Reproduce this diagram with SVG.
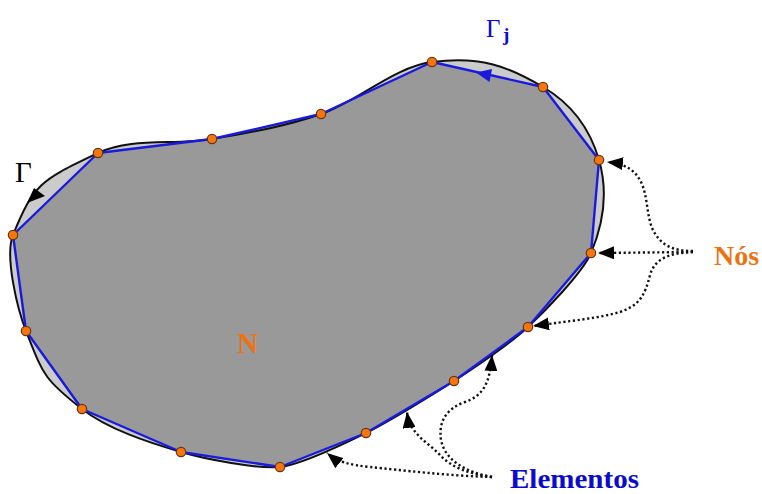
<svg xmlns="http://www.w3.org/2000/svg" width="762" height="494" viewBox="0 0 762 494">
<style>
.curve{fill:#cbcbcb;stroke:none}
.curveline{fill:none;stroke:#111;stroke-width:2}
.poly{fill:#999999;stroke:none}
.polyline{fill:none;stroke:#1a1ade;stroke-width:2.4;stroke-linejoin:round}
.node{fill:#f3760f;stroke:#6b3410;stroke-width:1.2}
.dot{fill:none;stroke:#111;stroke-width:2.4;stroke-dasharray:2.2 2.6;marker-end:url(#ah)}
.serif{font-family:"Liberation Serif","Times New Roman",serif}
.orange{fill:#ea7414;font-weight:bold}
.blue{fill:#0b0bcc}
</style>
<defs>
<marker id="ah" viewBox="0 0 16 13" refX="16" refY="6.5" markerWidth="16" markerHeight="13" orient="auto" markerUnits="userSpaceOnUse">
<path d="M0,0 L16,6.5 L0,13 z" fill="#000"/>
</marker>
<path id="bnd" d="M98,153 C131.2,137 174.8,145.5 212,139 C249.2,132.5 284.3,126.8 321,114 C357.7,101.2 395,66.5 432,62 C480.8,56.1 506.3,65.4 543,87 C573.1,104.6 590.4,130.1 599,160 C608.1,191.5 604.5,221.3 591,253 C582.5,273 544.4,311.6 528,327 C511.6,342.4 473.4,368.3 454,381 C434.6,393.7 386.9,422.7 366,433 C345.1,443.3 302.2,464.7 280,467 C257.8,469.3 204.8,459 181,452 C148,442.3 107.8,429.2 82,409 C43.25,378.75 43.25,374.5 26,331 C17.7,310.1 4.4,256.4 13,235 C34.6,181.6 42.3,179.9 98,153 Z"/>
<polygon id="mesh" points="98,153 212,139 321,114 432,62 543,87 599,160 591,253 528,327 454,381 366,433 280,467 181,452 82,409 26,331 13,235"/>
</defs>
<g id="domain">
<use href="#bnd" class="curve"/>
<use href="#mesh" class="poly"/>
<use href="#bnd" class="curveline"/>
<use href="#mesh" class="polyline"/>
<polygon points="476,72.5 492,69 489.5,82" fill="#1a1ade"/>
<polygon points="27,203 34,188 45,196" fill="#000"/>
</g>
<g id="connectors">
<path class="dot" d="M693,251 C672,251 660,245 652,228 C646,212 648,195 640,180 C634,170 626,164 607,162"/>
<path class="dot" d="M693,252 L598,253"/>
<path class="dot" d="M693,252 C670,253 655,258 650,275 C645,295 640,305 620,312 C600,318 570,321 533,326"/>
<path class="dot" d="M492,477 C450,476 400,470 370,467 C350,465 338,462 327,453"/>
<path class="dot" d="M492,477 C470,474 452,468 440,455 C428,442 410,435 407,412"/>
<path class="dot" d="M492,477 C465,472 445,460 441,440 C438,420 448,408 465,402 C482,396 490,385 492,355"/>
</g>
<g id="nodes">
<g id="n1"><circle class="node" cx="98" cy="153" r="4.7"/></g>
<g id="n2"><circle class="node" cx="212" cy="139" r="4.7"/></g>
<g id="n3"><circle class="node" cx="321" cy="114" r="4.7"/></g>
<g id="n4"><circle class="node" cx="432" cy="62" r="4.7"/></g>
<g id="n5"><circle class="node" cx="543" cy="87" r="4.7"/></g>
<g id="n6"><circle class="node" cx="599" cy="160" r="4.7"/></g>
<g id="n7"><circle class="node" cx="591" cy="253" r="4.7"/></g>
<g id="n8"><circle class="node" cx="528" cy="327" r="4.7"/></g>
<g id="n9"><circle class="node" cx="454" cy="381" r="4.7"/></g>
<g id="n10"><circle class="node" cx="366" cy="433" r="4.7"/></g>
<g id="n11"><circle class="node" cx="280" cy="467" r="4.7"/></g>
<g id="n12"><circle class="node" cx="181" cy="452" r="4.7"/></g>
<g id="n13"><circle class="node" cx="82" cy="409" r="4.7"/></g>
<g id="n14"><circle class="node" cx="26" cy="331" r="4.7"/></g>
<g id="n15"><circle class="node" cx="13" cy="235" r="4.7"/></g>
</g>
<g id="labels">
<text class="serif" x="15" y="182" font-size="29" fill="#000">Γ</text>
<text class="serif blue" x="486" y="37" font-size="25">Γ</text>
<text class="serif blue" x="503" y="41" font-size="19" font-weight="bold">j</text>
<text class="serif orange" x="237" y="353" font-size="29">N</text>
<text class="serif orange" x="714" y="265" font-size="28">Nós</text>
<text class="serif blue" x="510" y="488" font-size="28" font-weight="bold" textLength="129" lengthAdjust="spacingAndGlyphs">Elementos</text>
</g>
</svg>
